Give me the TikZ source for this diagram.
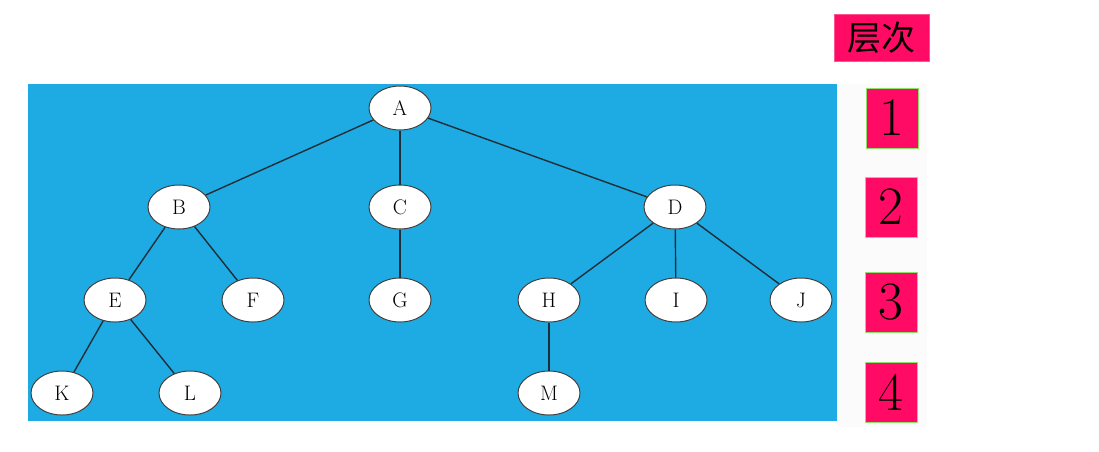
\documentclass[tikz,border=0pt]{standalone}
\usepackage{fontspec}
\newfontfamily\cjk{Noto Sans CJK SC}
\usetikzlibrary{shapes.geometric}
\definecolor{skyblue}{HTML}{1EABE3}
\definecolor{hotpink}{HTML}{FF0A64}
\definecolor{lvlgreen}{HTML}{8EE06A}
\definecolor{edgegray}{HTML}{1E2E38}
\tikzset{
  treenode/.style={ellipse, draw=black!75, line width=1pt, fill=white, minimum width=62pt, minimum height=44pt, inner sep=0pt, font=\fontsize{21}{21}\selectfont},
  edge/.style={draw=edgegray, line width=1.4pt},
  lvlbox/.style={draw=lvlgreen, line width=1pt, fill=hotpink, minimum width=52pt, minimum height=60pt, inner sep=0pt, font=\fontsize{54}{54}\selectfont},
}
\begin{document}
\begin{tikzpicture}[x=1pt,y=-1pt]
\useasboundingbox (0,0) rectangle (1099,451);
\fill[white] (0,0) rectangle (1099,451);
\fill[black!1.5] (837,84) rectangle (927,427);
\fill[skyblue] (28,84) rectangle (837,421);
\node[treenode] (A) at (400,108) {A};
\node[treenode] (B) at (179,207) {B};
\node[treenode] (C) at (400,207) {C};
\node[treenode] (D) at (675,207) {D};
\node[treenode] (E) at (115,300) {E};
\node[treenode] (F) at (253,300) {F};
\node[treenode] (G) at (400,300) {G};
\node[treenode] (H) at (549,300) {H};
\node[treenode] (I) at (676,300) {I};
\node[treenode] (J) at (801,300) {J};
\node[treenode] (K) at (62,393) {K};
\node[treenode] (L) at (190,393) {L};
\node[treenode] (M) at (549,393) {M};
\path[edge] (A) -- (B);
\path[edge] (A) -- (C);
\path[edge] (A) -- (D);
\path[edge] (B) -- (E);
\path[edge] (B) -- (F);
\path[edge] (C) -- (G);
\path[edge] (D) -- (H);
\path[edge] (D) -- (I);
\path[edge] (D) -- (J);
\path[edge] (E) -- (K);
\path[edge] (E) -- (L);
\path[edge] (H) -- (M);
\node[fill=hotpink, draw=hotpink!70!white, minimum width=95pt, minimum height=47pt, inner sep=0pt, font=\cjk\fontsize{34}{34}\selectfont] (title) at (881.5,37.5) {层次};
\node[lvlbox] (l1) at (892,118) {1};
\node[lvlbox] (l2) at (891,207) {2};
\node[lvlbox] (l3) at (891,302) {3};
\node[lvlbox] (l4) at (891,392) {4};
\end{tikzpicture}
\end{document}
